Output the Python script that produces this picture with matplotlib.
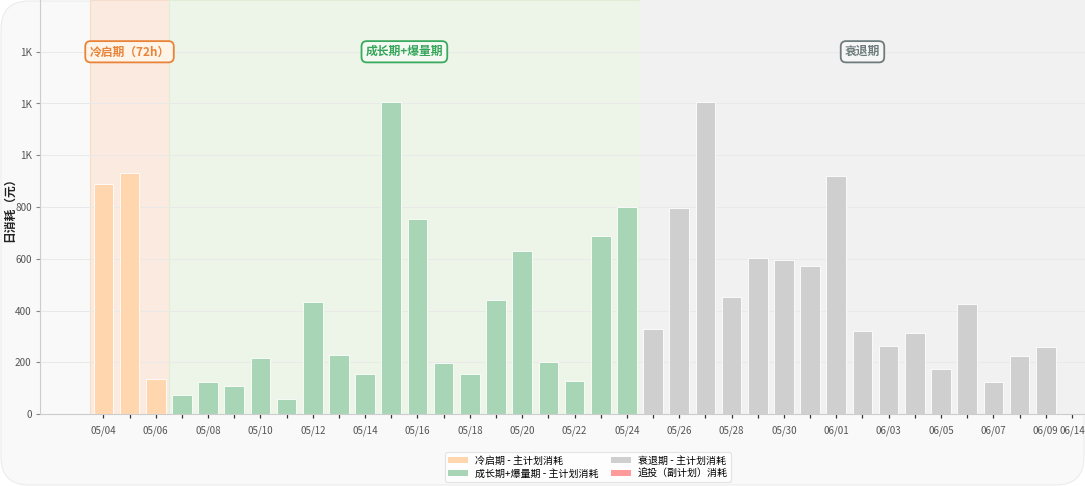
import matplotlib.pyplot as plt
from matplotlib.patches import FancyBboxPatch, Patch
from matplotlib.ticker import FuncFormatter

plt.rcParams['font.family'] = ['Noto Sans CJK SC', 'DejaVu Sans']

# categories (one per day, plus the trailing empty slot)
dates = ["05/04", "05/05", "05/06", "05/07", "05/08", "05/09", "05/10", "05/11",
         "05/12", "05/13", "05/14", "05/15", "05/16", "05/17", "05/18", "05/19",
         "05/20", "05/21", "05/22", "05/23", "05/24", "05/25", "05/26", "05/27",
         "05/28", "05/29", "05/30", "05/31", "06/01", "06/02", "06/03", "06/04",
         "06/05", "06/06", "06/07", "06/08", "06/09", "06/14"]

# daily spend per phase (main plan)
cold_vals = [890, 930, 135]
growth_vals = [73, 125, 108, 216, 58, 432, 228, 154, 1205, 753, 197, 154,
               440, 629, 200, 127, 687, 799]
decline_vals = [328, 795, 1205, 452, 602, 595, 571, 919, 320, 263, 313, 174,
                425, 124, 224, 259]

phase_labels = ["冷启期（72h）", "成长期+爆量期", "衰退期"]
legend_labels = ["冷启期 - 主计划消耗", "成长期+爆量期 - 主计划消耗",
                 "衰退期 - 主计划消耗", "追投（副计划）消耗"]

c_cold, c_growth, c_decline, c_extra = "#ffd6ae", "#a8d5b6", "#cfcfcf", "#ff9a9a"

W, H = 1085, 486
fig = plt.figure(figsize=(W / 100, H / 100), dpi=100)
fig.patch.set_facecolor("white")

# rounded card behind the chart
card = FancyBboxPatch((0.01, 0.01), W / 100 - 0.02, H / 100 - 0.02,
                      boxstyle="round,pad=0,rounding_size=0.28",
                      transform=fig.dpi_scale_trans, facecolor="#f9f9f9",
                      edgecolor="#ececec", linewidth=0.8, zorder=-10)
fig.patches.append(card)

ax = fig.add_axes([40 / W, 72 / H, 1045 / W, 414 / H])
ax.set_zorder(1)
ax.patch.set_alpha(0)

n_cold = len(cold_vals)
n_growth = len(growth_vals)
x_cold = list(range(n_cold))
x_growth = list(range(n_cold, n_cold + n_growth))
x_decline = list(range(n_cold + n_growth, n_cold + n_growth + len(decline_vals)))

# phase backgrounds
b1 = -0.5
b2 = n_cold - 0.5
b3 = n_cold + n_growth - 0.5
b4 = len(dates) - 0.5
ax.axvspan(b1, b2, facecolor="#fbeadf", edgecolor="#f8dccb", lw=0.8, zorder=0.2)
ax.axvspan(b2, b3, facecolor="#edf5e8", edgecolor="#e0eed8", lw=0.8, zorder=0.2)
ax.axvspan(b3, b4, facecolor="#f1f1f1", edgecolor="#f1f1f1", lw=0.8, zorder=0.2)

bw = 0.75
ax.bar(x_cold, cold_vals, width=bw, color=c_cold, edgecolor="white", lw=0.6, zorder=3)
ax.bar(x_growth, growth_vals, width=bw, color=c_growth, edgecolor="white", lw=0.6, zorder=3)
ax.bar(x_decline, decline_vals, width=bw, color=c_decline, edgecolor="white", lw=0.6, zorder=3)

# phase tags
tag_y = 1400
ax.text((b1 + b2) / 2, tag_y, phase_labels[0], ha="center", va="center",
        fontsize=8.5, fontweight="bold", color="#e8843a", zorder=5,
        bbox=dict(boxstyle="round,pad=0.35,rounding_size=0.45", fc="#fff4e8", ec="#e8843a", lw=1.3))
ax.text((b2 + b3) / 2, tag_y, phase_labels[1], ha="center", va="center",
        fontsize=8.5, fontweight="bold", color="#35a55a", zorder=5,
        bbox=dict(boxstyle="round,pad=0.35,rounding_size=0.45", fc="#f4faf2", ec="#3aab5e", lw=1.3))
ax.text((b3 + b4) / 2, tag_y, phase_labels[2], ha="center", va="center",
        fontsize=8.5, fontweight="bold", color="#6f7c7c", zorder=5,
        bbox=dict(boxstyle="round,pad=0.35,rounding_size=0.45", fc="#f6f6f6", ec="#6f7c7c", lw=1.3))

ax.set_xlim(-2.42, 37.5)
ax.set_ylim(0, 1600)
ax.set_yticks([0, 200, 400, 600, 800, 1000, 1200, 1400])
ax.yaxis.set_major_formatter(FuncFormatter(lambda v, p: f"{v / 1000:.0f}K" if v >= 1000 else f"{v:.0f}"))

ax.set_xticks(range(len(dates)))
ax.set_xticklabels([d if (i % 2 == 0 or i == len(dates) - 1) else "" for i, d in enumerate(dates)])

ax.yaxis.grid(True, color="#e9e9e9", lw=0.7, zorder=0.5)
ax.set_axisbelow(True)
for s in ["top", "right"]:
    ax.spines[s].set_visible(False)
ax.spines["left"].set_color("#cccccc")
ax.spines["bottom"].set_color("#cccccc")
ax.tick_params(axis="y", length=3, color="#888888", labelsize=7.2, labelcolor="#555555", pad=3)
ax.tick_params(axis="x", length=3, color="#333333", width=0.9, labelsize=7.0, labelcolor="#555555", pad=5)

ax.set_ylabel("日消耗（元）", fontsize=8.5, fontweight="bold", color="#222222")
ax.yaxis.set_label_coords(-24 / 1045, 0.5)

handles = [Patch(facecolor=c, edgecolor="none") for c in [c_cold, c_growth, c_decline, c_extra]]
leg = fig.legend(handles, legend_labels, ncol=2, loc="center",
                 bbox_to_anchor=(588 / W, 1 - 467 / H), fontsize=7.2,
                 frameon=True, handlelength=2.0, handleheight=0.6,
                 columnspacing=1.2, labelspacing=0.3, borderpad=0.35,
                 handletextpad=0.7)
leg.get_frame().set_edgecolor("#dddddd")
leg.get_frame().set_facecolor("white")
leg.get_frame().set_linewidth(0.8)

fig.savefig("out.png", dpi=100, facecolor=fig.get_facecolor())
